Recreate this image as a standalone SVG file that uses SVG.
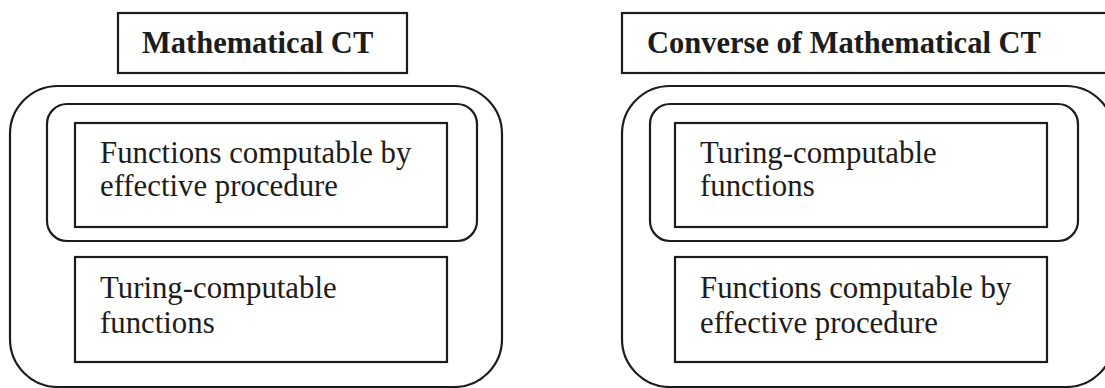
<svg xmlns="http://www.w3.org/2000/svg" width="1105" height="388" viewBox="0 0 1105 388">
<style>
.box{fill:none;stroke:#1c1c1c;stroke-width:2.2}
.t{font-family:"Liberation Serif","Times New Roman",serif;font-size:30.8px;fill:#1c1c1c}
.h{font-family:"Liberation Serif","Times New Roman",serif;font-size:30.5px;font-weight:bold;fill:#1c1c1c}
</style>
<rect width="1105" height="388" fill="#ffffff"/>
<g id="left">
  <g id="left-title"><rect class="box" x="118" y="13" width="289" height="60"/><text class="h" x="142" y="53">Mathematical CT</text></g>
  <g id="left-outer"><rect class="box" x="10" y="86" width="492" height="301" rx="48" ry="48"/></g>
  <g id="left-inner"><rect class="box" x="47" y="104" width="430" height="137" rx="20" ry="20"/></g>
  <g id="left-effective"><rect class="box" x="75" y="123" width="372" height="104"/><text class="t" x="100" y="163">Functions computable by</text><text class="t" x="100" y="196">effective procedure</text></g>
  <g id="left-turing"><rect class="box" x="75" y="257" width="372" height="105"/><text class="t" x="100" y="298">Turing-computable</text><text class="t" x="100" y="333">functions</text></g>
</g>
<g id="right">
  <g id="right-title"><rect class="box" x="622" y="13" width="490" height="60"/><text class="h" x="647" y="53">Converse of Mathematical CT</text></g>
  <g id="right-outer"><rect class="box" x="622" y="86" width="492" height="301" rx="48" ry="48"/></g>
  <g id="right-inner"><rect class="box" x="650" y="104" width="428" height="137" rx="20" ry="20"/></g>
  <g id="right-turing"><rect class="box" x="675" y="123" width="372" height="104"/><text class="t" x="700" y="163">Turing-computable</text><text class="t" x="700" y="196">functions</text></g>
  <g id="right-effective"><rect class="box" x="675" y="257" width="372" height="105"/><text class="t" x="700" y="298">Functions computable by</text><text class="t" x="700" y="333">effective procedure</text></g>
</g>
<g id="connectors"></g>
</svg>
